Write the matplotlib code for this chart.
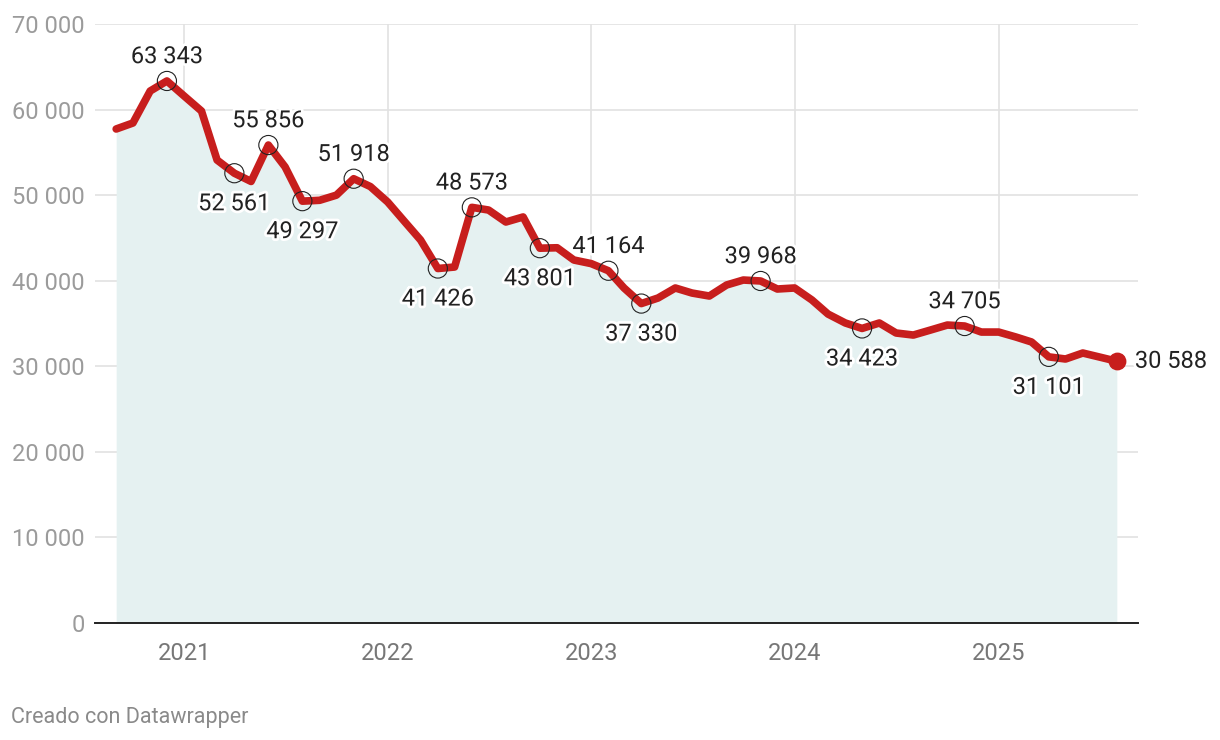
import matplotlib
matplotlib.use("Agg")
import matplotlib.pyplot as plt
import matplotlib.patheffects as pe
import pandas as pd
import numpy as np

plt.rcParams['font.family'] = ['Roboto', 'DejaVu Sans']

dates = pd.date_range("2020-09-01", "2025-08-01", freq="MS")
values = [57730, 58430, 62170, 63343, 61580, 59830, 54100, 52561, 51600, 55856,
          53300, 49297, 49400, 50000, 51918, 51000, 49200, 46860, 44760, 41426,
          41600, 48573, 48260, 46860, 47450, 43801, 43850, 42420, 42000, 41164,
          39150, 37330, 37980, 39150, 38560, 38210, 39500, 40080, 39968, 39030,
          39150, 37750, 36100, 35060, 34423, 35060, 33890, 33650, 34240, 34820,
          34705, 34000, 34000, 33420, 32840, 31101, 30850, 31550, 31080, 30588]

# labelled points: (index, position)
label_idx = [3, 7, 9, 11, 14, 19, 21, 25, 29, 31, 38, 44, 50, 55]
label_pos = ['above', 'below', 'above', 'below', 'above', 'below', 'above',
             'below', 'above', 'below', 'above', 'below', 'above', 'below']

y_ticks = [0, 10000, 20000, 30000, 40000, 50000, 60000, 70000]
x_years = [2021, 2022, 2023, 2024, 2025]

def fmt(v):
    return f"{v:,}".replace(",", " ")

fig = plt.figure(figsize=(12.2, 7.4), dpi=100)
ax = fig.add_axes([95/1220, 117/740, (1138-95)/1220, (623-24)/740])

red = "#c71e1d"
ax.fill_between(dates, values, 0, color="#e5f1f1", zorder=1, linewidth=0)
ax.plot(dates, values, color=red, lw=5.5, solid_capstyle='round',
        solid_joinstyle='round', zorder=3)

ax.set_ylim(0, 70000)
ax.set_xlim(pd.Timestamp("2020-07-25"), pd.Timestamp("2025-09-08"))

ax.set_yticks(y_ticks)
ax.set_yticklabels([fmt(v) for v in y_ticks])
xt = [pd.Timestamp(f"{y}-01-01") for y in x_years]
ax.set_xticks(xt)
ax.set_xticklabels([str(y) for y in x_years])

ax.grid(True, color="#e2e2e2", lw=1.2, zorder=0)
ax.set_axisbelow(True)
for s in ['top', 'right', 'left']:
    ax.spines[s].set_visible(False)
ax.spines['bottom'].set_color('#222222')
ax.spines['bottom'].set_linewidth(1.4)
ax.spines['bottom'].set_zorder(4)
ax.tick_params(axis='both', length=0, labelsize=17)
ax.tick_params(axis='y', colors='#9b9b9b', pad=7.5)
ax.tick_params(axis='x', colors='#777777', pad=14)

halo = [pe.withStroke(linewidth=4, foreground='white')]
for i, pos in zip(label_idx, label_pos):
    d, v = dates[i], values[i]
    ax.scatter([d], [v], s=190, facecolors='none', edgecolors='#222222',
               linewidths=0.8, zorder=5)
    off = 17.5 if pos == 'above' else -22
    ax.annotate(fmt(v), (d, v), xytext=(0, off), textcoords='offset points',
                ha='center', va='center', fontsize=17, color='#222222',
                path_effects=halo, zorder=6)

ax.scatter([dates[-1]], [values[-1]], s=140, color=red, zorder=6)
ax.annotate(fmt(values[-1]), (dates[-1], values[-1]), xytext=(13, 0),
            textcoords='offset points', ha='left', va='center', fontsize=17,
            color='#222222', path_effects=halo, zorder=6, annotation_clip=False)

fig.text(11/1220, 1 - 718/740, "Creado con Datawrapper", fontsize=15.5,
         color='#8a8a8a', ha='left', va='center')

fig.savefig("out.png", dpi=100)
